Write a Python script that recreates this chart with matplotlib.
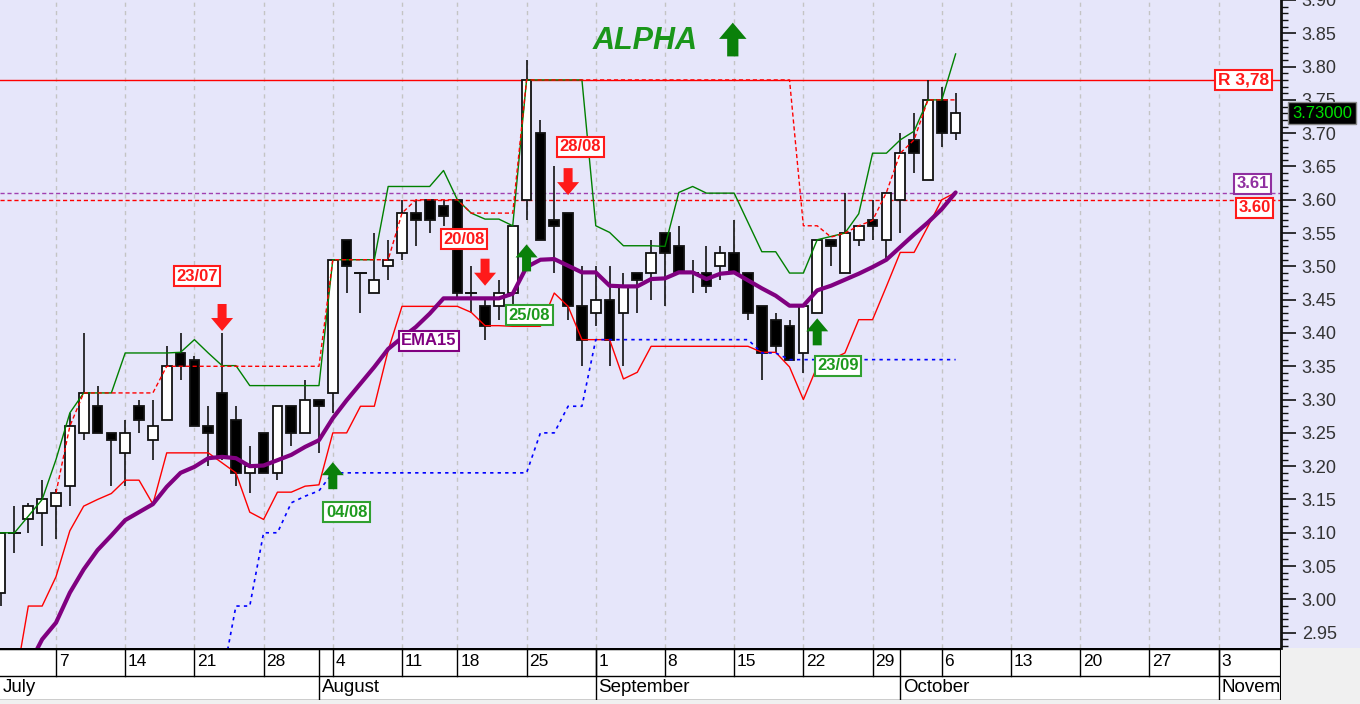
import matplotlib
matplotlib.use("Agg")
import matplotlib.pyplot as plt
import matplotlib.transforms as mtransforms
from matplotlib.patches import Rectangle, Polygon
from matplotlib.ticker import MultipleLocator
import numpy as np
import pandas as pd

plt.rcParams['font.family'] = ['Liberation Sans', 'DejaVu Sans']

# trading days, exchange closed on 15 Aug
days = pd.bdate_range("2025-07-01", "2025-11-07")
days = days[days != pd.Timestamp("2025-08-15")]

opens = [3.01, 3.10, 3.12, 3.13, 3.14, 3.17, 3.25, 3.29, 3.25, 3.22,
         3.29, 3.24, 3.27, 3.37, 3.36, 3.26, 3.31, 3.27, 3.19, 3.25,
         3.19, 3.29, 3.25, 3.30, 3.31, 3.54, 3.49, 3.46, 3.50, 3.52,
         3.58, 3.60, 3.59, 3.60, 3.46, 3.44, 3.44, 3.46, 3.60, 3.70,
         3.57, 3.58, 3.44, 3.43, 3.45, 3.43, 3.49, 3.49, 3.55, 3.53,
         3.49, 3.49, 3.50, 3.52, 3.49, 3.44, 3.42, 3.41, 3.37, 3.43,
         3.54, 3.49, 3.54, 3.57, 3.54, 3.60, 3.69, 3.63, 3.75, 3.70]
highs = [3.10, 3.14, 3.145, 3.18, 3.165, 3.28, 3.40, 3.32, 3.25, 3.27,
         3.30, 3.30, 3.38, 3.40, 3.365, 3.29, 3.40, 3.29, 3.23, 3.25,
         3.29, 3.29, 3.33, 3.30, 3.51, 3.54, 3.49, 3.55, 3.54, 3.60,
         3.60, 3.60, 3.60, 3.60, 3.50, 3.45, 3.48, 3.56, 3.81, 3.72,
         3.65, 3.58, 3.50, 3.50, 3.50, 3.49, 3.49, 3.54, 3.55, 3.56,
         3.51, 3.53, 3.53, 3.57, 3.49, 3.44, 3.43, 3.42, 3.44, 3.54,
         3.54, 3.61, 3.56, 3.60, 3.61, 3.70, 3.73, 3.78, 3.77, 3.76]
lows = [2.99, 3.07, 3.10, 3.08, 3.09, 3.14, 3.24, 3.25, 3.17, 3.17,
        3.25, 3.21, 3.27, 3.33, 3.26, 3.20, 3.21, 3.17, 3.16, 3.19,
        3.18, 3.23, 3.25, 3.22, 3.28, 3.46, 3.43, 3.46, 3.48, 3.51,
        3.53, 3.55, 3.56, 3.45, 3.43, 3.39, 3.42, 3.44, 3.57, 3.54,
        3.49, 3.42, 3.35, 3.41, 3.35, 3.35, 3.43, 3.45, 3.44, 3.49,
        3.46, 3.46, 3.48, 3.49, 3.42, 3.33, 3.37, 3.36, 3.34, 3.43,
        3.50, 3.49, 3.53, 3.54, 3.51, 3.55, 3.64, 3.63, 3.68, 3.69]
closes = [3.10, 3.10, 3.14, 3.15, 3.16, 3.26, 3.31, 3.25, 3.24, 3.25,
          3.27, 3.26, 3.35, 3.35, 3.26, 3.25, 3.215, 3.19, 3.20, 3.19,
          3.29, 3.25, 3.30, 3.29, 3.51, 3.50, 3.49, 3.48, 3.51, 3.58,
          3.57, 3.57, 3.575, 3.46, 3.46, 3.41, 3.46, 3.56, 3.78, 3.54,
          3.56, 3.44, 3.39, 3.45, 3.39, 3.47, 3.48, 3.52, 3.52, 3.49,
          3.49, 3.47, 3.52, 3.49, 3.43, 3.37, 3.38, 3.36, 3.44, 3.54,
          3.53, 3.55, 3.56, 3.56, 3.61, 3.67, 3.67, 3.75, 3.70, 3.73]

ema15 = [2.82, 2.86, 2.90, 2.94, 2.965, 3.01, 3.045, 3.074, 3.096, 3.119,
         3.131, 3.143, 3.169, 3.19, 3.199, 3.212, 3.214, 3.212, 3.20, 3.201,
         3.209, 3.217, 3.229, 3.239, 3.272, 3.299, 3.324, 3.349, 3.376, 3.393,
         3.409, 3.429, 3.452, 3.452, 3.452, 3.452, 3.452, 3.459, 3.499, 3.51,
         3.511, 3.501, 3.491, 3.491, 3.471, 3.47, 3.47, 3.481, 3.482, 3.491,
         3.491, 3.481, 3.489, 3.491, 3.479, 3.467, 3.456, 3.441, 3.441, 3.464,
         3.471, 3.48, 3.489, 3.499, 3.51, 3.529, 3.548, 3.566, 3.586, 3.611]
upper_band = [3.10, 3.10, 3.125, 3.15, 3.21, 3.28, 3.31, 3.31, 3.31, 3.37,
              3.37, 3.37, 3.37, 3.371, 3.39, 3.37, 3.351, 3.351, 3.321, 3.321,
              3.321, 3.321, 3.321, 3.321, 3.51, 3.51, 3.51, 3.51, 3.62, 3.62,
              3.62, 3.62, 3.644, 3.60, 3.58, 3.571, 3.571, 3.561, 3.78, 3.78,
              3.78, 3.78, 3.78, 3.561, 3.551, 3.531, 3.531, 3.531, 3.53, 3.611,
              3.62, 3.61, 3.61, 3.61, 3.566, 3.522, 3.522, 3.49, 3.49, 3.54,
              3.545, 3.55, 3.579, 3.67, 3.67, 3.69, 3.703, 3.75, 3.75, 3.819]
lower_band = [2.85, 2.87, 2.99, 2.99, 3.034, 3.103, 3.14, 3.15, 3.159, 3.179,
              3.179, 3.143, 3.22, 3.22, 3.22, 3.22, 3.205, 3.19, 3.131, 3.12,
              3.161, 3.161, 3.17, 3.172, 3.25, 3.25, 3.29, 3.29, 3.374, 3.44,
              3.44, 3.44, 3.44, 3.44, 3.431, 3.411, 3.411, 3.41, 3.41, 3.41,
              3.46, 3.44, 3.39, 3.39, 3.39, 3.331, 3.341, 3.38, 3.38, 3.38,
              3.38, 3.38, 3.38, 3.38, 3.38, 3.371, 3.371, 3.349, 3.30, 3.35,
              3.36, 3.37, 3.42, 3.42, 3.47, 3.521, 3.521, 3.56, 3.60, 3.611]
nan = np.nan
stop_high = [nan, nan, nan, nan, 3.16, 3.26, 3.31, 3.31, 3.31, 3.31,
             3.31, 3.31, 3.35, 3.35, 3.35, 3.35, 3.35, 3.35, 3.35, 3.35,
             3.35, 3.35, 3.35, 3.35, 3.51, 3.51, 3.51, 3.51, 3.51, 3.58,
             3.60, 3.60, 3.60, 3.60, 3.58, 3.58, 3.58, 3.58, 3.78, 3.78,
             3.78, 3.78, 3.78, 3.78, 3.78, 3.78, 3.78, 3.78, 3.78, 3.78,
             3.78, 3.78, 3.78, 3.78, 3.78, 3.78, 3.78, 3.78, 3.561, 3.561,
             3.544, 3.55, 3.561, 3.569, 3.611, 3.67, 3.69, 3.75, 3.75, 3.75]
stop_low = [nan, nan, nan, nan, nan, nan, nan, nan, nan, nan,
            nan, nan, nan, nan, nan, nan, 2.88, 2.99, 2.99, 3.10,
            3.10, 3.145, 3.155, 3.163, 3.19, 3.19, 3.19, 3.19, 3.19, 3.19,
            3.19, 3.19, 3.19, 3.19, 3.19, 3.19, 3.19, 3.19, 3.19, 3.25,
            3.25, 3.29, 3.29, 3.39, 3.39, 3.39, 3.39, 3.39, 3.39, 3.39,
            3.39, 3.39, 3.39, 3.39, 3.39, 3.37, 3.37, 3.36, 3.36, 3.36,
            3.36, 3.36, 3.36, 3.36, 3.36, 3.36, 3.36, 3.36, 3.36, 3.36]

resistance = 3.78
level_ema = 3.61
level_stop = 3.60
last_price = 3.73

sig_text = ["23/07", "20/08", "28/08", "04/08", "25/08", "23/09"]
sig_day = ["2025-07-23", "2025-08-20", "2025-08-28", "2025-08-04", "2025-08-25", "2025-09-23"]
sig_up = [False, False, False, True, True, True]
sig_tip = [3.403, 3.471, 3.607, 3.206, 3.533, 3.422]
sig_lab_dx = [-1.8, -1.5, 0.9, 1.0, 0.2, 1.5]
sig_lab_y = [3.485, 3.541, 3.68, 3.131, 3.427, 3.351]

RED = '#FF1A1A'
GREEN = '#0A800A'
PURPLE = '#800080'
LAV = '#E6E6FA'

W, H = 1360, 704
fig = plt.figure(figsize=(W / 100, H / 100), dpi=100, facecolor='#F0F0F0')
fig.patches.append(Rectangle((1281 / W, 56 / H), 1 - 1281 / W, 1 - 56 / H,
                             transform=fig.transFigure, fc=LAV, ec='none', zorder=-1))

ax = fig.add_axes([0, 56 / H, 1281 / W, 648 / H])
ax.set_facecolor(LAV)
x = np.arange(len(closes))
xlim = (-0.046, 92.51)
ax.set_xlim(*xlim)
ax.set_ylim(2.927, 3.899)

mondays = [i for i, d in enumerate(days) if d.weekday() == 0]
month_starts = [i for i in range(1, len(days)) if days[i].month != days[i - 1].month]
for m in mondays:
    ax.axvline(m, color='#C4C4C4', lw=1, ls=(0, (3, 3)), zorder=0.5)

# candles
for i in range(len(closes)):
    o, h, l, c = opens[i], highs[i], lows[i], closes[i]
    ax.plot([i, i], [l, h], color='#111111', lw=1.2, zorder=2, solid_capstyle='butt')
    if abs(c - o) < 0.002:
        ax.plot([i - 0.38, i + 0.38], [c, c], color='#111111', lw=1.4, zorder=2.1)
    else:
        fc = 'white' if c > o else 'black'
        ax.add_patch(Rectangle((i - 0.35, min(o, c)), 0.7, abs(c - o),
                               fc=fc, ec='#111111', lw=1.3, zorder=2.1))

# horizontal levels
ax.axhline(resistance, color='#FF0000', lw=1, zorder=1.5)
ax.axhline(level_ema, color='#A040B0', lw=1, ls=(0, (3, 2)), zorder=1.5)
ax.axhline(level_stop, color='#FF0000', lw=1, ls=(0, (3, 2)), zorder=1.5)

# indicators
ax.plot(x, upper_band, color='#008000', lw=1, zorder=3)
ax.plot(x, lower_band, color='#FF0000', lw=1, zorder=3)
ax.plot(x, stop_high, color='#FF0000', lw=1, ls=(0, (3, 2)), zorder=3)
ax.plot(x, stop_low, color='#0000FF', lw=1.2, ls=(0, (2, 2.5)), zorder=3)
ax.plot(x, ema15, color=PURPLE, lw=3, zorder=3.5, solid_capstyle='round')


def block_arrow(xd, yd, up, color, scale=1.0):
    s = -1 if up else 1
    verts = [(0, 0), (-11, 13), (-4.5, 13), (-4.5, 27), (4.5, 27), (4.5, 13), (11, 13)]
    verts = [(vx * scale, vy * s * scale) for vx, vy in verts]
    tr = mtransforms.Affine2D() + mtransforms.ScaledTranslation(xd, yd, ax.transData)
    ax.add_patch(Polygon(verts, closed=True, transform=tr, fc=color, ec='none', zorder=5,
                         clip_on=False))


def box_label(xd, yd, txt, color, edge, size=12):
    ax.text(xd, yd, txt, color=color, fontsize=size, fontweight='bold', ha='center',
            va='center', zorder=6,
            bbox=dict(boxstyle='square,pad=0.15', fc='white', ec=edge, lw=1.5))


day_index = {d.strftime('%Y-%m-%d'): i for i, d in enumerate(days)}
for t, d, up, tip, dx, ly in zip(sig_text, sig_day, sig_up, sig_tip, sig_lab_dx, sig_lab_y):
    i = day_index[d]
    col = GREEN if up else RED
    block_arrow(i, tip, up, col)
    box_label(i + dx, ly, t, '#1E9A1E' if up else RED, '#30A030' if up else RED)

box_label(30.95, 3.388, "EMA15", PURPLE, PURPLE)
box_label(89.8, resistance, "R 3,78", RED, RED, size=12.5)
box_label(90.45, 3.624, "3.61", '#9030A0', '#9030A0')
box_label(90.6, 3.588, "3.60", RED, RED)

ax.text(46.56, 3.839, "ALPHA", color='#1A961A', fontsize=22, fontweight='bold',
        fontstyle='italic', ha='center', va='center', zorder=6)
block_arrow(52.9, 3.866, True, GREEN, scale=1.25)

# right price axis
ax.yaxis.tick_right()
yt = np.round(np.arange(2.95, 3.9001, 0.05), 2)
ax.set_yticks(yt)
ax.set_yticklabels([f"{v:.2f}" for v in yt])
ax.yaxis.set_minor_locator(MultipleLocator(0.01))
ax.tick_params(axis='y', which='major', length=11, width=1.2, direction='out',
               color='#111111', labelcolor='#333333', labelsize=13, pad=4)
ax.tick_params(axis='y', which='minor', length=5, width=1, direction='out', color='#111111')
ax.set_xticks([])
for side in ['top', 'left', 'bottom']:
    ax.spines[side].set_visible(False)
ax.spines['right'].set_linewidth(2)
ax.spines['right'].set_color('#111111')

ax.text(1322 / 1281, last_price, f"{last_price:.5f}", transform=ax.get_yaxis_transform(),
        color='#00E000', fontsize=12, ha='center', va='center', zorder=10, clip_on=False,
        bbox=dict(boxstyle='square,pad=0.22', fc='black', ec='#888888', lw=1))

# date bar
dax = fig.add_axes([0, 4 / H, 1281 / W, 52 / H])
dax.set_xlim(*xlim)
dax.set_ylim(0, 1)
dax.set_facecolor('white')
dax.set_xticks([])
dax.set_yticks([])
for sp in dax.spines.values():
    sp.set_visible(False)
mid = 24 / 52
dax.axhline(1, color='black', lw=2.5)
dax.axhline(mid, color='black', lw=1)
dax.axhline(0, color='black', lw=1)
dax.axvline(xlim[1], color='black', lw=1.5)
for m in mondays:
    dax.plot([m, m], [mid, 1], color='black', lw=1)
    dax.text(m + 0.2, (mid + 1) / 2, str(days[m].day), fontsize=12.5, va='center',
             ha='left', clip_on=True)
dax.text(0.15, mid / 2, days[0].strftime('%B'), fontsize=13.5, va='center', ha='left')
for m in month_starts:
    dax.plot([m, m], [0, 1], color='black', lw=1)
    dax.text(m + 0.2, mid / 2, days[m].strftime('%B'), fontsize=13.5, va='center',
             ha='left', clip_on=True)

fig.savefig("out.png", dpi=100, facecolor=fig.get_facecolor())
